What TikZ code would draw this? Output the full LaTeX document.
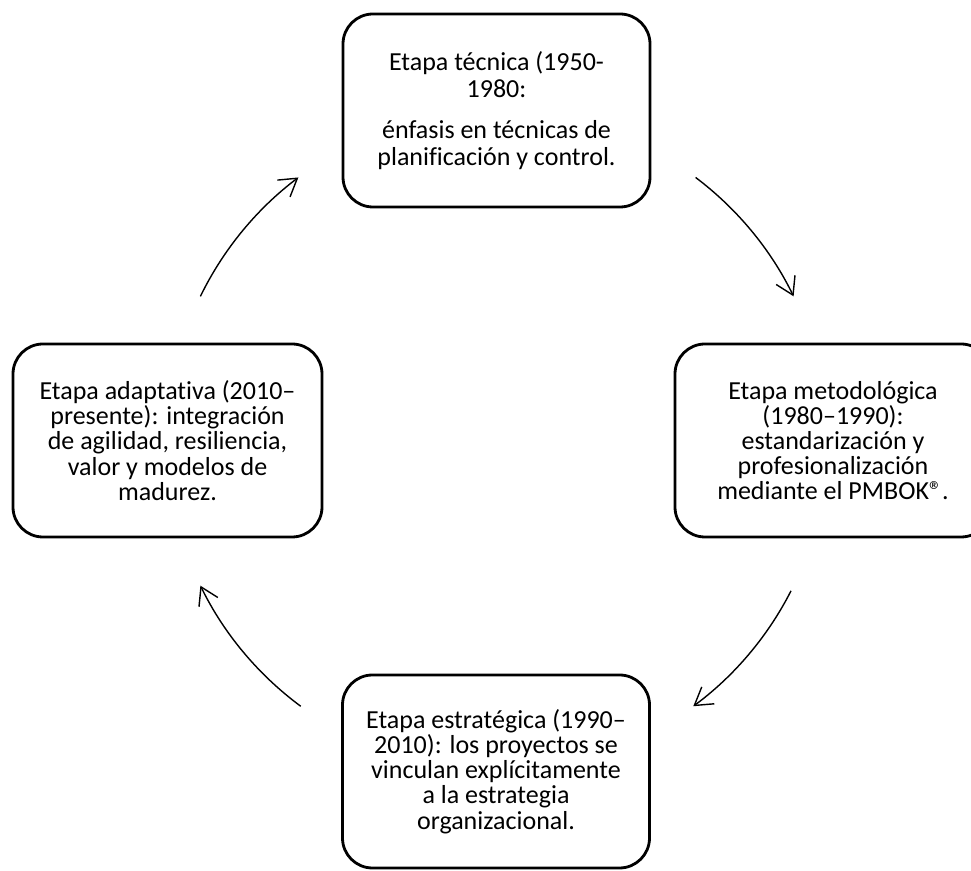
\documentclass[tikz,border=0pt]{standalone}
\usepackage{fontspec}
\setmainfont{Carlito}[Ligatures=NoCommon,RawFeature={-liga;-clig;-calt;-dlig}]
\usetikzlibrary{arrows.meta,calc}
\begin{document}
\begin{tikzpicture}[x=0.5pt,y=0.5pt,
  stage/.style={draw=black, line width=1.4pt, rounded corners=15pt,
    align=center, inner sep=0pt, font=\fontsize{13}{12.6}\selectfont},
  cyc/.style={draw=black, line width=0.7pt, -{Straight Barb[length=8.5pt,width=10.5pt]}}]
\useasboundingbox (0,0) rectangle (971,-871);
\clip (0,0) rectangle (971,-871);
\fill[white] (0,0) rectangle (971,-871);
\node[stage, minimum width=153.5pt, minimum height=96.5pt, font=\fontsize{13}{13.5}\selectfont] (top) at (496.5,-110.5)
  {Etapa técnica (1950-\\1980:\\[7pt] énfasis en técnicas de\\planificación y control.};
\node[stage, minimum width=158pt, minimum height=96.5pt] (right) at (833,-440.5)
  {Etapa metodológica\\(1980–1990):\\estandarización y\\profesionalización\\mediante el PMBOK®.};
\node[stage, minimum width=153.5pt, minimum height=96.5pt] (bottom) at (496,-771.5)
  {Etapa estratégica (1990–\\2010): los proyectos se\\vinculan explícitamente\\a la estrategia\\organizacional.};
\node[stage, minimum width=154.5pt, minimum height=96.5pt] (left) at (167.5,-440.5)
  {Etapa adaptativa (2010–\\presente): integración\\de agilidad, resiliencia,\\valor y modelos de\\madurez.};
\coordinate (c) at (497,-441);
\coordinate (s1) at ($(c)+(154:330)$);
\coordinate (s2) at ($(c)+(53:330)$);
\coordinate (s3) at ($(c)+(-27:330)$);
\coordinate (s4) at ($(c)+(-126.5:330)$);
\draw[cyc] (s1) arc[start angle=154, end angle=127, radius=330];
\draw[cyc] (s2) arc[start angle=53, end angle=26, radius=330];
\draw[cyc] (s3) arc[start angle=-27, end angle=-53.5, radius=330];
\draw[cyc] (s4) arc[start angle=-126.5, end angle=-154, radius=330];
\end{tikzpicture}
\end{document}
